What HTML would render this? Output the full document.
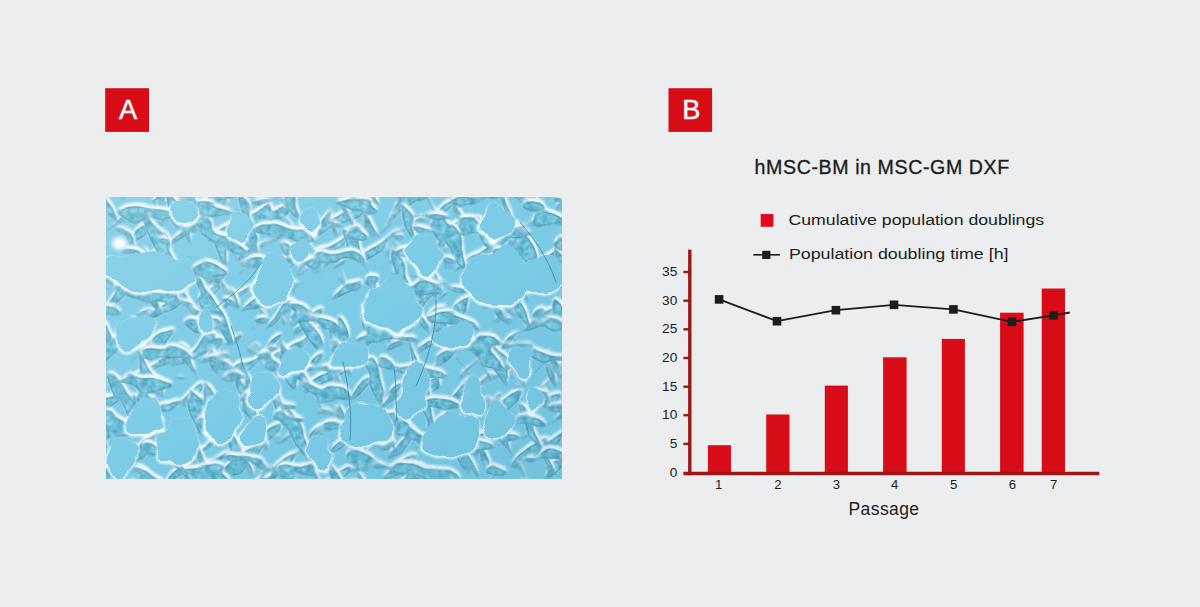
<!DOCTYPE html>
<html><head><meta charset="utf-8">
<style>
html,body{margin:0;padding:0;background:#ecedef;}
body{width:1200px;height:607px;overflow:hidden;font-family:"Liberation Sans",sans-serif;}
svg{display:block;}
text{font-family:"Liberation Sans",sans-serif;fill:#1d1d1b;}
</style></head><body>
<svg width="1200" height="607" viewBox="0 0 1200 607">
<rect width="1200" height="607" fill="#ecedef"/>

<!-- badges -->
<rect x="105.2" y="88.2" width="43.8" height="43.7" fill="#d70c17"/>
<text id="la" x="128.1" y="118.9" font-size="27.2" text-anchor="middle" style="fill:#fff" stroke="#fff" stroke-width="0.5">A</text>
<rect x="668.5" y="88.2" width="43.6" height="43.7" fill="#d70c17"/>
<text id="lb" x="691.3" y="118.9" font-size="27.2" text-anchor="middle" style="fill:#fff" stroke="#fff" stroke-width="0.5">B</text>

<!-- micrograph -->
<defs>
<filter id="c1" x="-150" y="-150" width="1000" height="1000" filterUnits="userSpaceOnUse" color-interpolation-filters="sRGB">
<feTurbulence type="fractalNoise" baseFrequency="0.024 0.070" numOctaves="2" seed="11" result="n"/>
<feColorMatrix in="n" type="matrix" values="0 0 0 0 1  0 0 0 0 1  0 0 0 0 1  14 0 0 0 -8.068" result="M"/>
<feOffset in="M" dx="2.56" dy="-1.81" result="Mo"/>
<feGaussianBlur in="Mo" stdDeviation="2.1" result="Mb"/>
<feGaussianBlur in="M" stdDeviation="1.1" result="Ms"/>
<feComposite in="Mb" in2="Ms" operator="arithmetic" k1="0" k2="2.05" k3="0.45" k4="-0.15" result="H0"/>
<feColorMatrix in="H0" type="matrix" values="0 0 0 0 0.93  0 0 0 0 0.975  0 0 0 0 0.995  0 0 0 1 0" result="H"/>
<feTurbulence type="fractalNoise" baseFrequency="0.16 0.14" numOctaves="3" seed="5" result="f"/>
<feColorMatrix in="f" type="matrix" values="0.42 0 0 0 0.215  0.35 0 0 0 0.575  0.28 0 0 0 0.705  0 0 0 0 1" result="ft"/>
<feComposite in="ft" in2="M" operator="in" result="body"/>
<feMorphology in="M" operator="erode" radius="0.7" result="Me"/>
<feComposite in="M" in2="Me" operator="out" result="rim0"/>
<feColorMatrix in="rim0" type="matrix" values="0 0 0 0 0.27  0 0 0 0 0.53  0 0 0 0 0.64  0 0 0 0.7 0" result="rim"/>
<feMerge><feMergeNode in="H"/><feMergeNode in="body"/><feMergeNode in="rim"/></feMerge>
</filter>
<filter id="c2" x="-150" y="-150" width="1000" height="1000" filterUnits="userSpaceOnUse" color-interpolation-filters="sRGB">
<feTurbulence type="fractalNoise" baseFrequency="0.022 0.066" numOctaves="2" seed="23" result="n"/>
<feColorMatrix in="n" type="matrix" values="0 0 0 0 1  0 0 0 0 1  0 0 0 0 1  14 0 0 0 -8.110" result="M"/>
<feOffset in="M" dx="-2.23" dy="-2.2" result="Mo"/>
<feGaussianBlur in="Mo" stdDeviation="2.1" result="Mb"/>
<feGaussianBlur in="M" stdDeviation="1.1" result="Ms"/>
<feComposite in="Mb" in2="Ms" operator="arithmetic" k1="0" k2="2.05" k3="0.45" k4="-0.15" result="H0"/>
<feColorMatrix in="H0" type="matrix" values="0 0 0 0 0.93  0 0 0 0 0.975  0 0 0 0 0.995  0 0 0 1 0" result="H"/>
<feTurbulence type="fractalNoise" baseFrequency="0.16 0.14" numOctaves="3" seed="8" result="f"/>
<feColorMatrix in="f" type="matrix" values="0.42 0 0 0 0.215  0.35 0 0 0 0.575  0.28 0 0 0 0.705  0 0 0 0 1" result="ft"/>
<feComposite in="ft" in2="M" operator="in" result="body"/>
<feMorphology in="M" operator="erode" radius="0.7" result="Me"/>
<feComposite in="M" in2="Me" operator="out" result="rim0"/>
<feColorMatrix in="rim0" type="matrix" values="0 0 0 0 0.27  0 0 0 0 0.53  0 0 0 0 0.64  0 0 0 0.7 0" result="rim"/>
<feMerge><feMergeNode in="H"/><feMergeNode in="body"/><feMergeNode in="rim"/></feMerge>
</filter>
<filter id="c3" x="-150" y="-150" width="1000" height="1000" filterUnits="userSpaceOnUse" color-interpolation-filters="sRGB">
<feTurbulence type="fractalNoise" baseFrequency="0.028 0.060" numOctaves="2" seed="37" result="n"/>
<feColorMatrix in="n" type="matrix" values="0 0 0 0 1  0 0 0 0 1  0 0 0 0 1  14 0 0 0 -8.180" result="M"/>
<feOffset in="M" dx="0.47" dy="-3.1" result="Mo"/>
<feGaussianBlur in="Mo" stdDeviation="2.1" result="Mb"/>
<feGaussianBlur in="M" stdDeviation="1.1" result="Ms"/>
<feComposite in="Mb" in2="Ms" operator="arithmetic" k1="0" k2="2.05" k3="0.45" k4="-0.15" result="H0"/>
<feColorMatrix in="H0" type="matrix" values="0 0 0 0 0.93  0 0 0 0 0.975  0 0 0 0 0.995  0 0 0 1 0" result="H"/>
<feTurbulence type="fractalNoise" baseFrequency="0.16 0.14" numOctaves="3" seed="13" result="f"/>
<feColorMatrix in="f" type="matrix" values="0.42 0 0 0 0.215  0.35 0 0 0 0.575  0.28 0 0 0 0.705  0 0 0 0 1" result="ft"/>
<feComposite in="ft" in2="M" operator="in" result="body"/>
<feMorphology in="M" operator="erode" radius="0.7" result="Me"/>
<feComposite in="M" in2="Me" operator="out" result="rim0"/>
<feColorMatrix in="rim0" type="matrix" values="0 0 0 0 0.27  0 0 0 0 0.53  0 0 0 0 0.64  0 0 0 0.7 0" result="rim"/>
<feMerge><feMergeNode in="H"/><feMergeNode in="body"/><feMergeNode in="rim"/></feMerge>
</filter>
<filter id="bb" x="100" y="190" width="470" height="295" filterUnits="userSpaceOnUse"><feGaussianBlur stdDeviation="1.3"/></filter>
<filter id="bs" x="100" y="190" width="470" height="295" filterUnits="userSpaceOnUse"><feGaussianBlur stdDeviation="0.7"/></filter>
<filter id="bb2" x="100" y="190" width="470" height="295" filterUnits="userSpaceOnUse"><feGaussianBlur stdDeviation="2.2"/></filter>
<filter id="disp" x="100" y="190" width="470" height="295" filterUnits="userSpaceOnUse"><feTurbulence type="fractalNoise" baseFrequency="0.035" numOctaves="2" seed="4" result="t"/><feDisplacementMap in="SourceGraphic" in2="t" scale="22" xChannelSelector="R" yChannelSelector="G"/></filter>
<clipPath id="mc"><rect x="106" y="197" width="456" height="282"/></clipPath>
<linearGradient id="lg" x1="0" y1="0" x2="1" y2="1">
<stop offset="0" stop-color="#fff" stop-opacity="0.13"/>
<stop offset="0.5" stop-color="#fff" stop-opacity="0"/>
<stop offset="0.5" stop-color="#2a7fa5" stop-opacity="0"/>
<stop offset="1" stop-color="#2a7fa5" stop-opacity="0.12"/>
</linearGradient>
</defs>
<g id="micro" clip-path="url(#mc)">
<rect x="106" y="197" width="456" height="282" fill="#7ccce6"/>
<g transform="rotate(-38 334 338)"><rect x="-100" y="-100" width="900" height="900" fill="#000" filter="url(#c1)"/></g>
<g transform="rotate(62 334 338)"><rect x="-100" y="-100" width="900" height="900" fill="#000" filter="url(#c2)"/></g>
<g transform="rotate(8 334 338)"><rect x="-100" y="-100" width="900" height="900" fill="#000" filter="url(#c3)"/></g>
<g filter="url(#bb)"><g filter="url(#disp)" fill="#f6fcfe"><ellipse cx="149.6" cy="274.0" rx="47.0" ry="20.9" transform="rotate(8 150 272)"/><ellipse cx="184.6" cy="214.0" rx="15.0" ry="10.9" transform="rotate(-10 185 212)"/><ellipse cx="240.6" cy="232.0" rx="15.0" ry="18.9" transform="rotate(15 241 230)"/><ellipse cx="272.6" cy="280.0" rx="19.0" ry="25.9" transform="rotate(10 273 278)"/><ellipse cx="206.6" cy="321.0" rx="9.0" ry="13.9" transform="rotate(25 207 319)"/><ellipse cx="302.6" cy="253.0" rx="12.0" ry="12.9" transform="rotate(0 303 251)"/><ellipse cx="308.6" cy="223.0" rx="14.0" ry="10.9" transform="rotate(-15 309 221)"/><ellipse cx="423.6" cy="255.0" rx="19.0" ry="21.9" transform="rotate(10 424 253)"/><ellipse cx="498.6" cy="280.0" rx="36.0" ry="28.9" transform="rotate(-5 499 278)"/><ellipse cx="498.6" cy="224.0" rx="17.0" ry="20.9" transform="rotate(10 499 222)"/><ellipse cx="393.6" cy="309.0" rx="30.0" ry="29.9" transform="rotate(0 394 307)"/><ellipse cx="540.6" cy="277.0" rx="21.0" ry="20.9" transform="rotate(0 541 275)"/><ellipse cx="221.6" cy="415.0" rx="20.0" ry="27.9" transform="rotate(5 222 413)"/><ellipse cx="255.6" cy="433.0" rx="14.0" ry="16.9" transform="rotate(10 256 431)"/><ellipse cx="178.6" cy="445.0" rx="21.0" ry="20.9" transform="rotate(0 179 443)"/><ellipse cx="263.6" cy="392.0" rx="19.0" ry="17.9" transform="rotate(-10 264 390)"/><ellipse cx="145.6" cy="419.0" rx="18.0" ry="18.9" transform="rotate(0 146 417)"/><ellipse cx="121.6" cy="458.0" rx="17.0" ry="21.9" transform="rotate(0 122 456)"/><ellipse cx="292.6" cy="366.0" rx="16.0" ry="12.9" transform="rotate(-20 293 364)"/><ellipse cx="321.6" cy="456.0" rx="13.0" ry="22.9" transform="rotate(0 322 454)"/><ellipse cx="365.6" cy="429.0" rx="26.0" ry="20.9" transform="rotate(-8 366 427)"/><ellipse cx="412.6" cy="394.0" rx="15.0" ry="31.9" transform="rotate(8 413 392)"/><ellipse cx="449.6" cy="439.0" rx="28.0" ry="20.9" transform="rotate(-15 450 437)"/><ellipse cx="473.6" cy="398.0" rx="11.0" ry="19.9" transform="rotate(10 474 396)"/><ellipse cx="496.6" cy="424.0" rx="15.0" ry="17.9" transform="rotate(0 497 422)"/><ellipse cx="523.6" cy="361.0" rx="11.0" ry="16.9" transform="rotate(5 524 359)"/><ellipse cx="533.6" cy="400.0" rx="11.0" ry="14.9" transform="rotate(0 534 398)"/><ellipse cx="134.6" cy="332.0" rx="21.0" ry="14.9" transform="rotate(-20 135 330)"/><ellipse cx="349.6" cy="357.0" rx="17.0" ry="14.9" transform="rotate(0 350 355)"/><ellipse cx="454.6" cy="337.0" rx="23.0" ry="12.9" transform="rotate(-10 455 335)"/></g></g>
<g filter="url(#bs)"><g filter="url(#disp)" fill="#7ccce6"><ellipse cx="150" cy="272" rx="46" ry="20" transform="rotate(8 150 272)"/><ellipse cx="185" cy="212" rx="14" ry="10" transform="rotate(-10 185 212)"/><ellipse cx="241" cy="230" rx="14" ry="18" transform="rotate(15 241 230)"/><ellipse cx="273" cy="278" rx="18" ry="25" transform="rotate(10 273 278)"/><ellipse cx="207" cy="319" rx="8" ry="13" transform="rotate(25 207 319)"/><ellipse cx="303" cy="251" rx="11" ry="12" transform="rotate(0 303 251)"/><ellipse cx="309" cy="221" rx="13" ry="10" transform="rotate(-15 309 221)"/><ellipse cx="424" cy="253" rx="18" ry="21" transform="rotate(10 424 253)"/><ellipse cx="499" cy="278" rx="35" ry="28" transform="rotate(-5 499 278)"/><ellipse cx="499" cy="222" rx="16" ry="20" transform="rotate(10 499 222)"/><ellipse cx="394" cy="307" rx="29" ry="29" transform="rotate(0 394 307)"/><ellipse cx="541" cy="275" rx="20" ry="20" transform="rotate(0 541 275)"/><ellipse cx="222" cy="413" rx="19" ry="27" transform="rotate(5 222 413)"/><ellipse cx="256" cy="431" rx="13" ry="16" transform="rotate(10 256 431)"/><ellipse cx="179" cy="443" rx="20" ry="20" transform="rotate(0 179 443)"/><ellipse cx="264" cy="390" rx="18" ry="17" transform="rotate(-10 264 390)"/><ellipse cx="146" cy="417" rx="17" ry="18" transform="rotate(0 146 417)"/><ellipse cx="122" cy="456" rx="16" ry="21" transform="rotate(0 122 456)"/><ellipse cx="293" cy="364" rx="15" ry="12" transform="rotate(-20 293 364)"/><ellipse cx="322" cy="454" rx="12" ry="22" transform="rotate(0 322 454)"/><ellipse cx="366" cy="427" rx="25" ry="20" transform="rotate(-8 366 427)"/><ellipse cx="413" cy="392" rx="14" ry="31" transform="rotate(8 413 392)"/><ellipse cx="450" cy="437" rx="27" ry="20" transform="rotate(-15 450 437)"/><ellipse cx="474" cy="396" rx="10" ry="19" transform="rotate(10 474 396)"/><ellipse cx="497" cy="422" rx="14" ry="17" transform="rotate(0 497 422)"/><ellipse cx="524" cy="359" rx="10" ry="16" transform="rotate(5 524 359)"/><ellipse cx="534" cy="398" rx="10" ry="14" transform="rotate(0 534 398)"/><ellipse cx="135" cy="330" rx="20" ry="14" transform="rotate(-20 135 330)"/><ellipse cx="350" cy="355" rx="16" ry="14" transform="rotate(0 350 355)"/><ellipse cx="455" cy="335" rx="22" ry="12" transform="rotate(-10 455 335)"/></g></g>
<g fill="none" stroke="#3f7f9c" stroke-width="0.9" stroke-linecap="round" opacity="0.85"><path d="M436 300 C437 330 428 360 416 386"/><path d="M394 368 C397 385 395 402 397 420"/><path d="M231 326 C236 340 240 352 243 366"/><path d="M343 362 C350 392 352 420 350 440"/><path d="M262 262 C250 282 232 296 215 308"/><path d="M520 222 C535 240 548 258 556 282"/></g>
<g filter="url(#bb2)"><ellipse cx="119.5" cy="243.5" rx="7.5" ry="6.5" fill="#fff"/><ellipse cx="119" cy="243" rx="4" ry="3.5" fill="#fff"/></g>
<rect x="106" y="197" width="456" height="282" fill="url(#lg)"/>
</g>

<!-- title / legend -->
<text id="title" x="754.6" y="173.9" font-size="19.6" textLength="254.6" lengthAdjust="spacing" stroke="#1d1d1b" stroke-width="0.35">hMSC-BM in MSC-GM DXF</text>
<rect x="760.7" y="214" width="12.7" height="12.8" fill="#e00a1a"/>
<text id="lg1" x="788.5" y="225.4" font-size="15.2" textLength="255.6" lengthAdjust="spacingAndGlyphs">Cumulative population doublings</text>
<line x1="753.3" y1="254.8" x2="779.9" y2="254.8" stroke="#1d1d1b" stroke-width="1.6"/>
<rect x="762.2" y="250.8" width="8.2" height="8.2" fill="#1d1d1b"/>
<text id="lg2" x="788.9" y="258.8" font-size="15.2" textLength="219.6" lengthAdjust="spacingAndGlyphs">Population doubling time [h]</text>

<!-- bars -->
<g fill="#d90d17">
<rect x="707.9" y="445.2" width="23.1" height="27.5"/>
<rect x="766.2" y="414.5" width="23.3" height="58.2"/>
<rect x="824.8" y="385.6" width="23.1" height="87.1"/>
<rect x="883.1" y="357.3" width="23.5" height="115.4"/>
<rect x="941.8" y="338.9" width="23.1" height="133.8"/>
<rect x="1000.1" y="312.7" width="23.5" height="160"/>
<rect x="1041.7" y="288.5" width="23.3" height="184.2"/>
</g>

<!-- axes -->
<g stroke="#9c1717" fill="none">
<line x1="689.8" y1="249.6" x2="689.8" y2="475.2" stroke-width="3.4"/>
<line x1="683.4" y1="473.4" x2="1099.3" y2="473.4" stroke-width="3.5"/>
<g stroke-width="2.4">
<line x1="683.4" y1="272" x2="689" y2="272"/>
<line x1="683.4" y1="300.7" x2="689" y2="300.7"/>
<line x1="683.4" y1="329.3" x2="689" y2="329.3"/>
<line x1="683.4" y1="358" x2="689" y2="358"/>
<line x1="683.4" y1="386.7" x2="689" y2="386.7"/>
<line x1="683.4" y1="415.2" x2="689" y2="415.2"/>
<line x1="683.4" y1="443.9" x2="689" y2="443.9"/>
</g>
</g>

<!-- y labels -->
<g font-size="13.7" text-anchor="end">
<text x="677.3" y="276.1">35</text>
<text x="677.3" y="304.8">30</text>
<text x="677.3" y="333.4">25</text>
<text x="677.3" y="362.1">20</text>
<text x="677.3" y="390.8">15</text>
<text x="677.3" y="419.4">10</text>
<text x="677.3" y="448.1">5</text>
<text x="677.3" y="476.9">0</text>
</g>
<!-- x labels -->
<g font-size="13.2" text-anchor="middle">
<text x="718.7" y="489.3">1</text>
<text x="777.9" y="489.3">2</text>
<text x="836.3" y="489.3">3</text>
<text x="894.7" y="489.3">4</text>
<text x="953.6" y="489.3">5</text>
<text x="1012.4" y="489.3">6</text>
<text x="1053.6" y="489.3">7</text>
</g>
<text id="pass" x="848.5" y="514.7" font-size="17.5" textLength="70.6" lengthAdjust="spacing">Passage</text>

<!-- line series -->
<polyline points="719.1,299.4 777,321.2 835.9,310.2 894,304.8 953.4,309.4 1012,321.9 1053.6,315.3 1069.8,312.5" fill="none" stroke="#1d1d1b" stroke-width="1.8" stroke-linejoin="round"/>
<g fill="#1d1d1b">
<rect x="714.8" y="295.1" width="8.6" height="8.6"/>
<rect x="772.7" y="316.9" width="8.6" height="8.6"/>
<rect x="831.6" y="305.9" width="8.6" height="8.6"/>
<rect x="889.7" y="300.5" width="8.6" height="8.6"/>
<rect x="949.1" y="305.1" width="8.6" height="8.6"/>
<rect x="1007.7" y="317.6" width="8.6" height="8.6"/>
<rect x="1049.3" y="311" width="8.6" height="8.6"/>
</g>
</svg>
</body></html>
